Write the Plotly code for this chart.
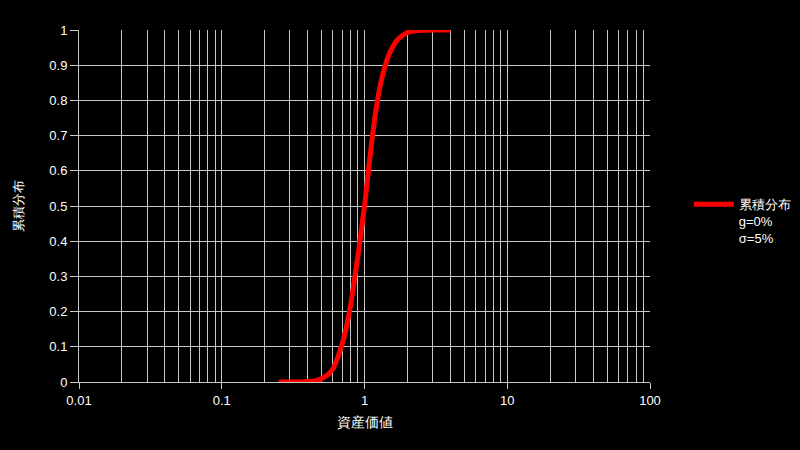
import plotly.graph_objects as go

# Asset value (log scale) and cumulative distribution
ASSET_VALUE = [0.25, 0.35, 0.45, 0.5, 0.55, 0.6, 0.65, 0.7, 0.75, 0.8, 0.85, 0.9,
               0.95, 1.0, 1.1, 1.2, 1.3, 1.4, 1.5, 1.7, 2.0, 2.5, 3.0, 4.0]
CUM_DIST = [0.0, 0.0003, 0.003, 0.01, 0.02, 0.037, 0.07, 0.11, 0.16, 0.22, 0.29, 0.36,
            0.43, 0.50, 0.65, 0.77, 0.85, 0.9, 0.935, 0.972, 0.993, 0.999, 1.0, 1.0]

SERIES_NAME = "累積分布<br>g=0%<br>σ=5%"
X_TITLE = "資産価値"
Y_TITLE = "累積分布"
Y_TICKS = [0, 0.1, 0.2, 0.3, 0.4, 0.5, 0.6, 0.7, 0.8, 0.9, 1]
Y_TICK_TEXT = ["0", "0.1", "0.2", "0.3", "0.4", "0.5", "0.6", "0.7", "0.8", "0.9", "1"]
X_TICKS = [0.01, 0.1, 1, 10, 100]
X_TICK_TEXT = ["0.01", "0.1", "1", "10", "100"]

GRID = "#c8c8c8"
FONT = "Liberation Sans, Arial, sans-serif"

fig = go.Figure()
fig.add_trace(
    go.Scatter(
        x=ASSET_VALUE,
        y=CUM_DIST,
        mode="lines",
        name=SERIES_NAME,
        line=dict(color="#ff0000", width=5, shape="spline", smoothing=0.6),
        showlegend=True,
    )
)

fig.update_layout(
    width=800,
    height=450,
    paper_bgcolor="black",
    plot_bgcolor="black",
    font=dict(family=FONT, size=13, color="white"),
    margin=dict(l=79, r=150, t=30, b=68),
    showlegend=True,
    legend=dict(
        xref="container",
        yref="container",
        x=0.861,
        y=0.508,
        xanchor="left",
        yanchor="middle",
        valign="top",
        itemwidth=40,
        bgcolor="rgba(0,0,0,0)",
        font=dict(family=FONT, size=13, color="white"),
    ),
)

fig.update_xaxes(
    type="log",
    range=[-2, 2],
    tickvals=X_TICKS,
    ticktext=X_TICK_TEXT,
    ticks="outside",
    ticklen=6,
    tickcolor=GRID,
    showgrid=True,
    gridcolor=GRID,
    gridwidth=1,
    minor=dict(dtick="D1", showgrid=True, gridcolor=GRID, ticks=""),
    showline=True,
    linecolor=GRID,
    zeroline=False,
    title=dict(text=X_TITLE, font=dict(size=14, color="white"), standoff=10),
    tickfont=dict(size=13, color="white"),
)

fig.update_yaxes(
    range=[0, 1],
    tickvals=Y_TICKS,
    ticktext=Y_TICK_TEXT,
    ticks="outside",
    ticklen=8,
    tickcolor=GRID,
    showgrid=True,
    gridcolor=GRID,
    gridwidth=1,
    showline=True,
    linecolor=GRID,
    zeroline=False,
    title=dict(text=Y_TITLE, font=dict(size=13, color="white"), standoff=22),
    tickfont=dict(size=13, color="white"),
)

# page body has a default white margin; remove it so the chart sits at 0,0
fig.write_html(
    "out.html",
    config={"displayModeBar": False},
    post_script="document.body.style.margin='0';document.body.style.background='black';",
)
